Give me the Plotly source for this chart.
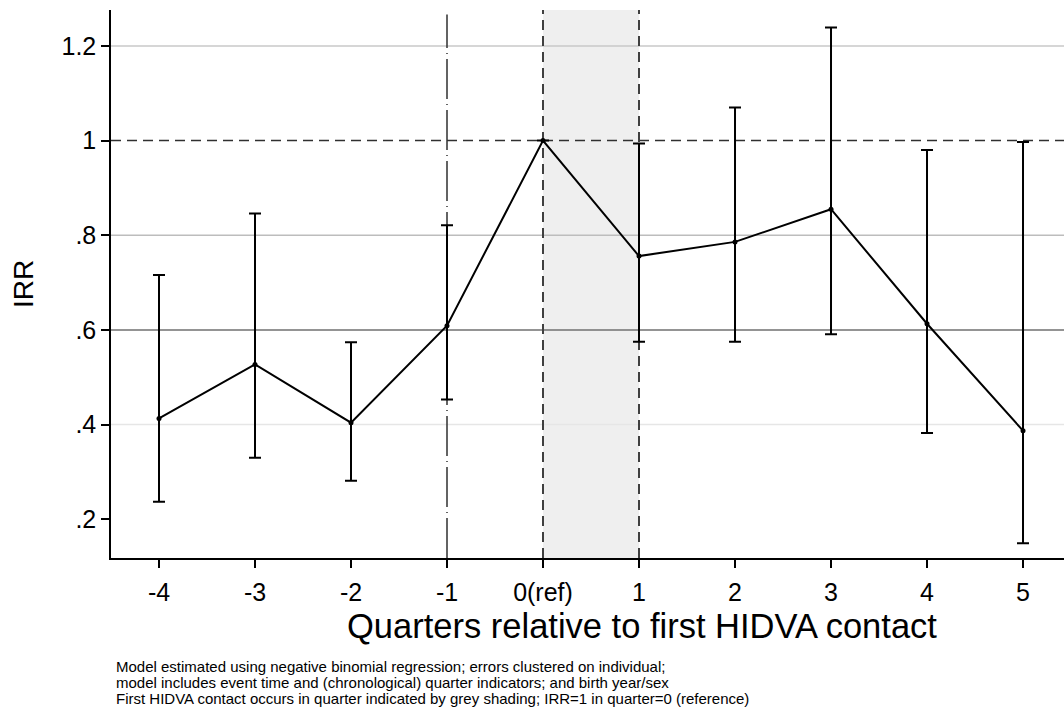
import plotly.graph_objects as go

# Event-time quarters and incidence rate ratios with 95% CIs
quarters = [-4, -3, -2, -1, 0, 1, 2, 3, 4, 5]
quarter_labels = ["-4", "-3", "-2", "-1", "0(ref)", "1", "2", "3", "4", "5"]
irr = [0.413, 0.527, 0.404, 0.609, 1.0, 0.756, 0.786, 0.855, 0.613, 0.387]
ci_low = [0.237, 0.330, 0.281, 0.453, 1.0, 0.575, 0.575, 0.591, 0.382, 0.149]
ci_high = [0.716, 0.846, 0.574, 0.821, 1.0, 0.994, 1.070, 1.239, 0.980, 0.997]

y_ticks = [0.2, 0.4, 0.6, 0.8, 1.0, 1.2]
y_tick_labels = [".2", ".4", ".6", ".8", "1", "1.2"]
grid_colors = {0.4: "#e6e6e6", 0.6: "#707070", 0.8: "#bdbdbd", 1.2: "#c8c8c8"}

x_title = "Quarters relative to first HIDVA contact"
note_lines = [
    "Model estimated using negative binomial regression; errors clustered on individual;",
    "model includes event time and (chronological) quarter indicators; and birth year/sex",
    "First HIDVA contact occurs in quarter indicated by grey shading; IRR=1 in quarter=0 (reference)",
]

err_plus = [h - v for h, v in zip(ci_high, irr)]
err_minus = [v - l for v, l in zip(irr, ci_low)]

FONT = "Liberation Sans, Arial, sans-serif"
W, H = 1064, 713
M_L, M_R, M_T, M_B = 111, 0, 10, 155
PLOT_H = H - M_T - M_B
PLOT_W = W - M_L - M_R


def px_x(x_px):
    return (x_px - M_L) / PLOT_W


def px_y(y_px):
    return (H - M_B - y_px) / PLOT_H


fig = go.Figure()
fig.add_trace(go.Scatter(
    x=quarters, y=irr, mode="lines+markers",
    line=dict(color="black", width=2),
    marker=dict(color="black", size=5),
    error_y=dict(type="data", symmetric=False, array=err_plus, arrayminus=err_minus,
                 color="black", thickness=2, width=6, visible=True),
    showlegend=False,
))

shapes = []
# Grey shading for the first-contact quarter
shapes.append(dict(type="rect", xref="x", yref="paper", x0=0, x1=1, y0=0, y1=1,
                   fillcolor="#efefef", line=dict(width=0), layer="below"))
# Horizontal gridlines
for v, c in grid_colors.items():
    shapes.append(dict(type="line", xref="paper", yref="y", x0=0, x1=1, y0=v, y1=v,
                       line=dict(color=c, width=1.5), layer="below"))
# Reference line at IRR = 1
shapes.append(dict(type="line", xref="paper", yref="y", x0=0, x1=1, y0=1, y1=1,
                   line=dict(color="#303030", width=1.5, dash="10px,6px"), layer="below"))
# Dashed bounds of the shaded quarter
for xv in [0, 1]:
    shapes.append(dict(type="line", xref="x", yref="paper", x0=xv, x1=xv, y0=0, y1=1,
                       line=dict(color="#404040", width=2, dash="10px,6px"), layer="below"))
# Dash-dot marker at quarter -1
shapes.append(dict(type="line", xref="x", yref="paper", x0=-1, x1=-1, y0=0, y1=0.992,
                   line=dict(color="#303030", width=1.5, dash="40px,5px,1px,5px"), layer="below"))

annotations = []
# X axis title
annotations.append(dict(
    text=x_title, xref="paper", yref="paper", x=px_x(642), y=px_y(626),
    xanchor="center", yanchor="middle", showarrow=False,
    font=dict(size=34.5, family=FONT, color="black"),
))
# Footnote, one annotation per line
for i, line in enumerate(note_lines):
    annotations.append(dict(
        text=line, xref="paper", yref="paper",
        x=px_x(114), y=px_y(666 + 16 * i),
        xanchor="left", yanchor="middle", align="left", showarrow=False,
        font=dict(size=15, family=FONT, color="black"),
    ))

fig.update_layout(
    width=W, height=H,
    margin=dict(l=M_L, r=M_R, t=M_T, b=M_B),
    paper_bgcolor="white", plot_bgcolor="white",
    font=dict(family=FONT, color="black"),
    shapes=shapes,
    annotations=annotations,
    xaxis=dict(
        range=[-4.5, 5.427], tickmode="array", tickvals=quarters, ticktext=quarter_labels,
        showgrid=False, zeroline=False, showline=True, linecolor="black", linewidth=1.5,
        ticks="outside", ticklen=8, tickwidth=1.5, tickcolor="black",
        tickfont=dict(size=25, family=FONT), ticklabelstandoff=3,
    ),
    yaxis=dict(
        range=[0.118, 1.276], tickmode="array", tickvals=y_ticks, ticktext=y_tick_labels,
        showgrid=False, zeroline=False, showline=True, linecolor="black", linewidth=1.5,
        ticks="outside", ticklen=8, tickwidth=1.5, tickcolor="black",
        tickfont=dict(size=25, family=FONT),
        title=dict(text="IRR", font=dict(size=28, family=FONT), standoff=20),
    ),
)

fig.write_html("out.html")
